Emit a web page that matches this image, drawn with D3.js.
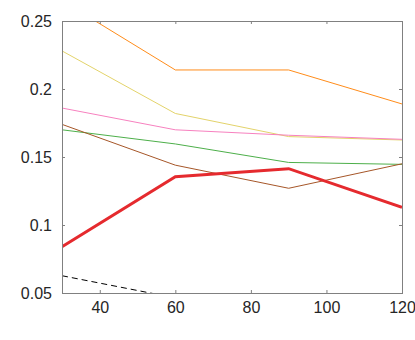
<!DOCTYPE html>
<html>
<head>
<meta charset="utf-8">
<script src="https://cdn.jsdelivr.net/npm/d3@7"></script>
<style>
  body { margin: 0; background: #fff; }
  text { font-family: "Liberation Sans", Arial, sans-serif; }
</style>
</head>
<body>
<div id="chart"></div>
<script>
const xs = [30, 60, 90, 120];
const xTicks = [40, 60, 80, 100, 120];
const yTicks = [0.05, 0.1, 0.15, 0.2, 0.25];
const yTickLabels = ["0.05", "0.1", "0.15", "0.2", "0.25"];

const orange = [0.265, 0.214, 0.214, 0.189];
const yellow = [0.228, 0.182, 0.165, 0.1625];
const pink = [0.186, 0.170, 0.166, 0.163];
const green = [0.170, 0.1596, 0.146, 0.1446];
const brown = [0.174, 0.144, 0.127, 0.145];
const red = [0.084, 0.1355, 0.1414, 0.113];
const dashed = [0.0627, 0.0464, 0.035, 0.03];

const series = [
    {values: dashed, color: "#000", width: 1, dash: "6,4"},
    {values: orange, color: "#ff8c1a", width: 1},
    {values: yellow, color: "#e3d36a", width: 1},
    {values: pink, color: "#f781bf", width: 1},
    {values: green, color: "#4daf4a", width: 1},
    {values: brown, color: "#a65628", width: 1},
    {values: red, color: "#e52a2e", width: 3}
];

const W = 415, H = 340;
const mLeft = 62, mRight = 402, mTop = 21, mBottom = 293;

const svg = d3.select("#chart").append("svg")
    .attr("width", W).attr("height", H);

const x = d3.scaleLinear().domain([30, 120]).range([mLeft, mRight]);
const y = d3.scaleLinear().domain([0.05, 0.25]).range([mBottom, mTop]);

svg.append("defs").append("clipPath").attr("id", "clip")
    .append("rect")
    .attr("x", mLeft).attr("y", mTop)
    .attr("width", mRight - mLeft).attr("height", mBottom - mTop);

const line = d3.line()
    .x((d, i) => x(xs[i]))
    .y(d => y(d));

const g = svg.append("g").attr("clip-path", "url(#clip)");
series.forEach(s => {
    g.append("path")
        .datum(s.values)
        .attr("d", line)
        .attr("fill", "none")
        .attr("stroke", s.color)
        .attr("stroke-width", s.width)
        .attr("stroke-dasharray", s.dash || null);
});

const axisColor = "#808080";
const textColor = "#262626";

function styleAxis(sel) {
    sel.select(".domain").remove();
    sel.selectAll(".tick line").attr("stroke", axisColor);
    sel.selectAll(".tick text").attr("fill", textColor).style("font-size", "16px");
}

svg.append("g")
    .attr("transform", `translate(0,${mBottom})`)
    .call(d3.axisBottom(x).tickValues(xTicks).tickSizeInner(-3).tickSizeOuter(0).tickPadding(9))
    .call(styleAxis);

svg.append("g")
    .attr("transform", `translate(0,${mTop})`)
    .call(d3.axisTop(x).tickValues(xTicks).tickSizeInner(-3).tickSizeOuter(0).tickFormat(""))
    .call(styleAxis);

svg.append("g")
    .attr("transform", `translate(${mLeft},0)`)
    .call(d3.axisLeft(y).tickValues(yTicks).tickSizeInner(-3).tickSizeOuter(0).tickPadding(10)
        .tickFormat((d, i) => yTickLabels[i]))
    .call(styleAxis);

svg.append("g")
    .attr("transform", `translate(${mRight},0)`)
    .call(d3.axisRight(y).tickValues(yTicks).tickSizeInner(-3).tickSizeOuter(0).tickFormat(""))
    .call(styleAxis);

svg.append("rect")
    .attr("x", mLeft + 0.5).attr("y", mTop + 0.5)
    .attr("width", mRight - mLeft).attr("height", mBottom - mTop)
    .attr("fill", "none")
    .attr("stroke", axisColor)
    .attr("stroke-width", 1);
</script>
</body>
</html>
